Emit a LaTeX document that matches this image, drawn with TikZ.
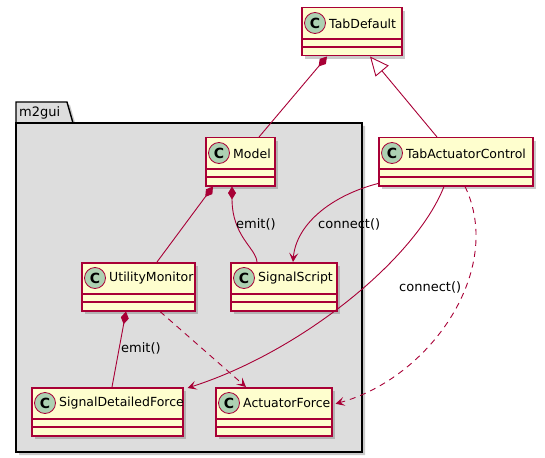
\documentclass[tikz,border=0pt]{standalone}
\usepackage{fontspec}
\setmainfont{DejaVu Sans}
\usetikzlibrary{arrows.meta,calc,shadows}
\definecolor{bord}{HTML}{A80036}
\definecolor{cfill}{HTML}{FEFECE}
\definecolor{cgreen}{HTML}{ADD1B2}
\definecolor{pkgfill}{HTML}{DDDDDD}
\tikzset{
 classbox/.style={draw=bord, line width=1.5pt, fill=cfill, minimum height=48pt, inner sep=0pt,
   drop shadow={shadow xshift=3pt, shadow yshift=-3pt, opacity=0.35, fill=black!60}},
 classline/.style={draw=bord, line width=1.1pt},
 classcircle/.style={circle, draw=bord, line width=0.8pt, fill=cgreen, minimum size=21pt, inner sep=0pt, font=\fontsize{14}{14}\selectfont\bfseries},
 classname/.style={inner sep=0pt, font=\fontsize{12.5}{14}\selectfont, anchor=west},
 lbl/.style={inner sep=0pt, font=\fontsize{13}{15}\selectfont, anchor=west},
 rel/.style={draw=bord, line width=0.9pt},
 comp/.style={rel, {Diamond[length=13pt,width=8pt,fill=bord]}-},
 arr/.style={rel, -{Stealth[length=9pt,width=9pt,inset=4pt]}},
 dsh/.style={dash pattern=on 6pt off 5pt},
 inh/.style={rel, {Triangle[open,length=19pt,width=17pt,fill=white]}-},
 pkg/.style={draw=black, line width=1.4pt, fill=pkgfill},
}
\newcommand\umlclass[5]{%
  \node[classbox, minimum width=#4pt, anchor=north west] (#1) at (#2,#3) {};
  \draw[classline] ($(#1.north west)+(0,32)$) -- ($(#1.north east)+(0,32)$);
  \draw[classline] ($(#1.north west)+(0,40)$) -- ($(#1.north east)+(0,40)$);
  \node[classcircle] (#1-c) at ($(#1.north west)+(14,16)$) {C};
  \node[classname] (#1-t) at ($(#1.north west)+(28,16.5)$) {#5};
}
\begin{document}
\begin{tikzpicture}[x=1pt,y=-1pt]
\useasboundingbox (0,0) rectangle (545,457);
% package
\fill[black!60, opacity=0.35] (19,105) -- (70,105) -- (76,126) -- (365,126) -- (365,455) -- (19,455) -- cycle;
\draw[pkg] (16,123) -- (16,102) -- (67,102) -- (73,123) -- cycle;
\draw[pkg] (16,123) rectangle (362,452);
\node[inner sep=0pt, font=\fontsize{13}{15}\selectfont, anchor=west] (pkgname) at (19,113) {m2gui};
% classes
\umlclass{TabDefault}{301}{7}{100}{TabDefault}
\umlclass{TAC}{378}{137}{154}{TabActuatorControl}
\umlclass{Model}{205}{137}{69}{Model}
\umlclass{UM}{81}{262}{113}{UtilityMonitor}
\umlclass{SS}{230}{262}{106}{SignalScript}
\umlclass{SDF}{31}{387}{151}{SignalDetailedForce}
\umlclass{AF}{215}{387}{116}{ActuatorForce}
% relations
\draw[comp] ($(TabDefault.south west)+(26,0)$) -- ($(Model.north west)+(54,0)$);
\draw[inh] ($(TabDefault.south west)+(69,0)$) -- ($(TAC.north west)+(59,0)$);
\draw[comp] ($(Model.south west)+(8,0)$) -- ($(UM.north west)+(76,0)$);
\draw[comp] ($(Model.south west)+(27,0)$) .. controls ($(Model.south west)+(27,50)$) and ($(SS.north west)+(26,-14)$) .. ($(SS.north west)+(27,0)$);
\node[lbl] (l1) at (236,224) {emit()};
\draw[arr] ($(TAC.south west)+(0,-3)$) .. controls (330,196) and (296,225) .. ($(SS.north west)+(63,0)$);
\node[lbl] (l2) at (318,224) {connect()};
\draw[arr] ($(TAC.south west)+(66,0)$) .. controls (415,260) and (300,352) .. ($(SDF.north east)+(4,1)$);
\node[lbl] (l3) at (399,287) {connect()};
\draw[arr, dsh] ($(TAC.south west)+(87,0)$) .. controls (505,270) and (430,378) .. ($(AF.east)+(3,-8)$);
\draw[comp] ($(UM.south west)+(45,0)$) -- ($(SDF.north west)+(81,0)$);
\node[lbl] (l4) at (121,348) {emit()};
\draw[arr, dsh] ($(UM.south west)+(79,0)$) -- ($(AF.north west)+(31,0)$);
\end{tikzpicture}
\end{document}
